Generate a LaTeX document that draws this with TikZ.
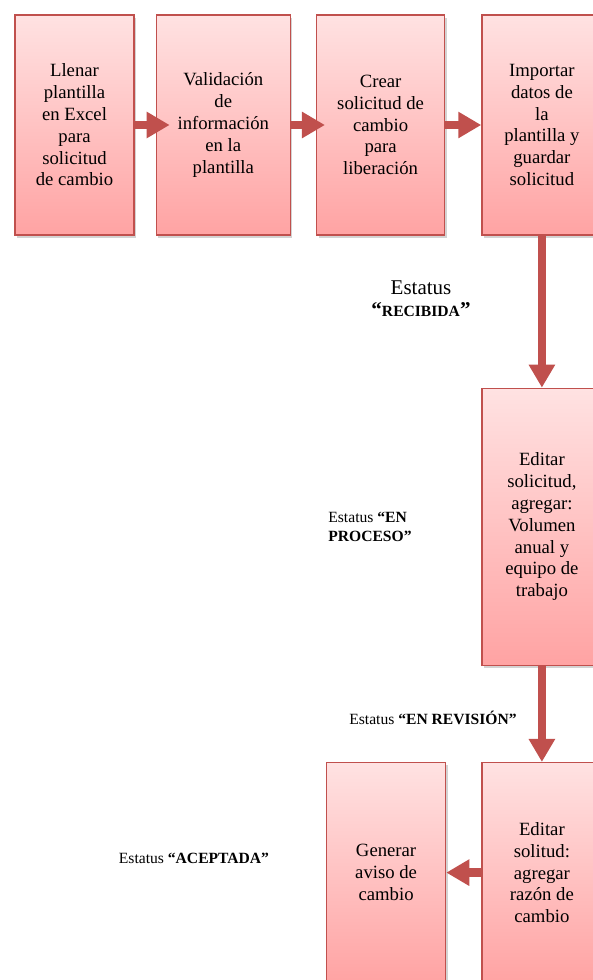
\documentclass[tikz,border=0pt]{standalone}
\usepackage{fontspec}
\setmainfont{Liberation Serif}
\usetikzlibrary{positioning, arrows.meta, shadows}
\definecolor{rojoborde}{HTML}{C0504D}
\definecolor{rosaarriba}{HTML}{FFE2E2}
\definecolor{rosaabajo}{HTML}{FFA3A3}
\tikzset{
caja/.style={draw=rojoborde, line width=1.3pt, top color=rosaarriba, bottom color=rosaabajo,
  minimum width=120pt, minimum height=220pt, align=center, inner sep=2pt,
  font=\fontsize{18.7}{21.8}\selectfont,
  drop shadow={shadow xshift=2pt, shadow yshift=-2.5pt, opacity=0.35}},
flecha/.style={draw=rojoborde, line width=8.5pt, -{Triangle[length=23pt,width=25pt]}},
estado/.style={align=center, font=\fontsize{15.6}{19}\selectfont},
}

\begin{document}
\begin{tikzpicture}
\useasboundingbox (0,0) rectangle (593pt,-980pt);
% fila de arriba
\node[caja, minimum width=119pt] (llenar) at (74.5pt,-125pt) {Llenar\\plantilla\\en Excel\\para\\solicitud\\de cambio};
\node[caja, minimum width=134pt, right=21pt of llenar] (validar) {Validaci\'on\\de\\informaci\'on\\en la\\plantilla};
\node[caja, minimum width=128pt, right=25pt of validar] (crear) {Crear\\solicitud de\\cambio\\para\\liberaci\'on};
\node[caja, right=36pt of crear] (importar) {Importar\\datos de\\la\\plantilla y\\guardar\\solicitud};
% columna derecha
\node[caja, minimum height=277pt, below=152pt of importar] (editar) {Editar\\solicitud,\\agregar:\\Volumen\\anual y\\equipo de\\trabajo};
\node[caja, below=96pt of editar] (razon) {Editar\\solitud:\\agregar\\raz\'on de\\cambio};
\node[caja, minimum width=119pt, left=35pt of razon] (aviso) {Generar\\aviso de\\cambio};

\draw[flecha] (llenar.east) -- ([xshift=14pt]validar.west);
\draw[flecha] (validar.east) -- ([xshift=9pt]crear.west);
\draw[flecha] (crear.east) -- (importar.west);
\draw[flecha] (importar.south) -- (editar.north);
\draw[flecha] (editar.south) -- (razon.north);
\draw[flecha] (razon.west) -- (aviso.east);

% estatus
\node[estado, font=\fontsize{21}{22}\selectfont] (recibida) at (421pt,-299pt) {Estatus\\\textbf{“{\fontsize{15.6}{22}\selectfont RECIBIDA}”}};
\node[estado, align=left] (proceso) at (370pt,-527pt) {Estatus \textbf{“EN}\\\textbf{PROCESO”}};
\node[estado] (revision) at (433pt,-718pt) {Estatus \textbf{“EN REVISI\'ON”}};
\node[estado] (aceptada) at (194pt,-858pt) {Estatus \textbf{“ACEPTADA”}};
\end{tikzpicture}
\end{document}
